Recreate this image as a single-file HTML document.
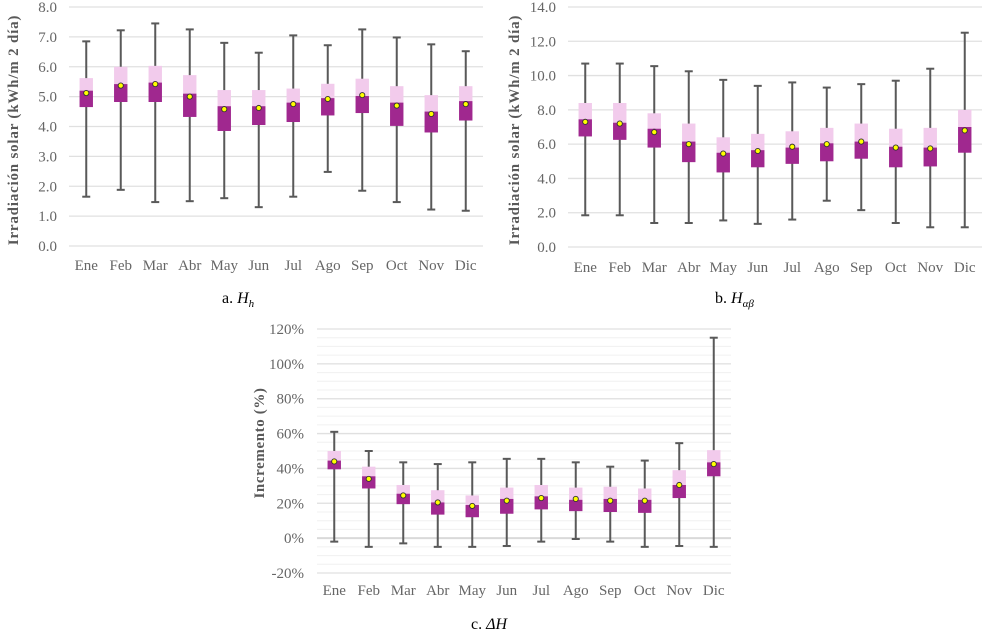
<!DOCTYPE html>
<html><head><meta charset="utf-8"><style>
body{margin:0;background:#fff;}
svg{display:block;font-family:"Liberation Serif",serif;}
</style></head><body>
<svg id="s" width="982" height="630" viewBox="0 0 982 630"></svg>
<script>
const months=["Ene","Feb","Mar","Abr","May","Jun","Jul","Ago","Sep","Oct","Nov","Dic"];
// Chart a: H_h
const aMax=[6.85,7.22,7.45,7.25,6.8,6.47,7.05,6.72,7.25,6.98,6.75,6.52];
const aQ3=[5.62,6.0,6.03,5.72,5.22,5.22,5.27,5.43,5.6,5.35,5.05,5.35];
const aMed=[5.2,5.42,5.47,5.1,4.68,4.68,4.8,4.95,5.02,4.8,4.5,4.85];
const aQ1=[4.65,4.82,4.82,4.32,3.85,4.05,4.15,4.37,4.45,4.02,3.8,4.2];
const aMin=[1.65,1.88,1.47,1.5,1.6,1.3,1.65,2.48,1.85,1.47,1.22,1.18];
const aMean=[5.12,5.37,5.42,5.0,4.58,4.62,4.75,4.92,5.05,4.7,4.42,4.75];
const aTicks=["0.0","1.0","2.0","3.0","4.0","5.0","6.0","7.0","8.0"];
// Chart b: H_ab
const bMax=[10.7,10.7,10.55,10.25,9.75,9.4,9.6,9.3,9.5,9.7,10.4,12.5];
const bQ3=[8.4,8.4,7.8,7.2,6.4,6.6,6.75,6.95,7.2,6.9,6.95,8.0];
const bMed=[7.45,7.25,6.9,6.15,5.5,5.65,5.8,6.05,6.15,5.85,5.8,7.0];
const bQ1=[6.45,6.25,5.8,4.95,4.35,4.65,4.85,5.0,5.15,4.65,4.7,5.5];
const bMin=[1.85,1.85,1.4,1.4,1.55,1.35,1.6,2.7,2.15,1.4,1.15,1.15];
const bMean=[7.3,7.2,6.7,6.0,5.45,5.6,5.85,6.0,6.15,5.8,5.75,6.8];
const bTicks=["0.0","2.0","4.0","6.0","8.0","10.0","12.0","14.0"];
// Chart c: delta H (%)
const cMax=[61,50,43.5,42.5,43.5,45.5,45.5,43.5,41,44.5,54.5,115];
const cQ3=[50,41,30.5,27.5,24.5,29,30.5,29,29.5,28.5,39,50.5];
const cMed=[44.5,35.5,25.5,20.5,19,22.5,24,22,22.5,22,30.5,43.5];
const cQ1=[39.5,28.5,19.5,13.5,12,14,16.5,15.5,15,14.5,23,35.5];
const cMin=[-2,-5,-3,-5,-5,-4.5,-2,-0.5,-2,-5,-4.5,-5];
const cMean=[44,34,24.5,20.5,18.5,21.5,23,22.5,21.5,21.5,30.5,42.5];
const cTicks=["-20%","0%","20%","40%","60%","80%","100%","120%"];

const NS="http://www.w3.org/2000/svg";
const svg=document.getElementById('s');
function mk(tag,attrs,parent,text){const e=document.createElementNS(NS,tag);for(const k in attrs)e.setAttribute(k,attrs[k]);if(text!==undefined)e.textContent=text;(parent||svg).appendChild(e);return e;}

function chart(o){
  const g=mk('g',{});
  
  
  const y=v=>o.y0+(v-o.vmin)/(o.vmax-o.vmin)*(o.y1-o.y0);
  const bw=(o.x1-o.x0)/months.length;
  const x=i=>o.x0+bw*(i+0.5);
  if(o.minor){for(let v=o.vmin;v<=o.vmax+1e-9;v+=o.minor){const l=mk('line',{x1:o.x0,x2:o.x1,y1:y(v),y2:y(v),stroke:'#f0f0f0','stroke-width':1},g);}}
  o.ticks.forEach((t,k)=>{const v=o.vmin+k*o.step;
    const l=mk('line',{x1:o.x0,x2:o.x1,y1:y(v),y2:y(v),stroke:(o.zeroDark&&v===0)?'#d9d9d9':'#e0e0e0','stroke-width':o.zeroDark&&v===0?2:1.3},g);
    
    const tx=mk('text',{x:o.tickX,y:y(v)+5,'text-anchor':'end','font-size':15,fill:'#666'},g,t);
    
  });
  months.forEach((m,i)=>{
    const cx=x(i);
    const w=mk('line',{x1:cx,x2:cx,y1:y(o.max[i]),y2:y(o.min[i]),stroke:'#595959','stroke-width':2},g);
    
    const c1=mk('line',{x1:cx-4,x2:cx+4,y1:y(o.max[i]),y2:y(o.max[i]),stroke:'#595959','stroke-width':2},g);
    
    const c2=mk('line',{x1:cx-4,x2:cx+4,y1:y(o.min[i]),y2:y(o.min[i]),stroke:'#595959','stroke-width':2},g);
    
    const hw=6.7;
    const up=mk('rect',{x:cx-hw,y:y(o.q3[i]),width:hw*2,height:y(o.med[i])-y(o.q3[i]),fill:'#f2cbec'},g);
    
    const lo=mk('rect',{x:cx-hw,y:y(o.med[i]),width:hw*2,height:y(o.q1[i])-y(o.med[i]),fill:'#a0288f'},g);
    
    const d=mk('circle',{cx:cx,cy:y(o.mean[i]),r:2.6,fill:'#ffff00',stroke:'#333','stroke-width':0.9},g);
    
    const t=mk('text',{x:cx,y:o.catY,'text-anchor':'middle','font-size':15,fill:'#666'},g,m);
    
  });
  const tt=mk('text',{x:0,y:0,transform:`translate(${o.titleX},${o.titleY}) rotate(-90)`,'text-anchor':'middle','font-size':15,'font-weight':'bold',fill:'#595959','letter-spacing':o.ls||0},g,o.title);
  
}

chart({name:'chart-a',x0:69,x1:483,y0:246,y1:7,vmin:0,vmax:8,step:1,ticks:aTicks,tickX:57,catY:270,ls:0.8,
  max:aMax,q3:aQ3,med:aMed,q1:aQ1,min:aMin,mean:aMean,title:'Irradiación solar (kWh/m  2 día)',titleX:18,titleY:130});
chart({name:'chart-b',x0:568,x1:982,y0:247,y1:7,vmin:0,vmax:14,step:2,ticks:bTicks,tickX:556,catY:272,ls:0.8,
  max:bMax,q3:bQ3,med:bMed,q1:bQ1,min:bMin,mean:bMean,title:'Irradiación solar (kWh/m  2 día)',titleX:519,titleY:130});
chart({name:'chart-c',x0:317,x1:731,y0:573,y1:329,vmin:-20,vmax:120,step:20,ticks:cTicks,tickX:304,catY:595,minor:5,zeroDark:true,ls:0.6,
  max:cMax,q3:cQ3,med:cMed,q1:cQ1,min:cMin,mean:cMean,title:'Incremento (%)',titleX:264,titleY:443});

function caption(x,yy,pre,it,sub,name){
  const t=mk('text',{x:x,y:yy,'font-size':16,fill:'#000'});
  
  mk('tspan',{},t,pre);
  mk('tspan',{'font-style':'italic'},t,it);
  if(sub)mk('tspan',{'font-style':'italic','font-size':11,dy:4},t,sub);
}
caption(222,303,'a. ','H','h','caption-a');
caption(715,303,'b. ','H','αβ','caption-b');
caption(471,629,'c. ','ΔH','','caption-c');
</script>
</body></html>
